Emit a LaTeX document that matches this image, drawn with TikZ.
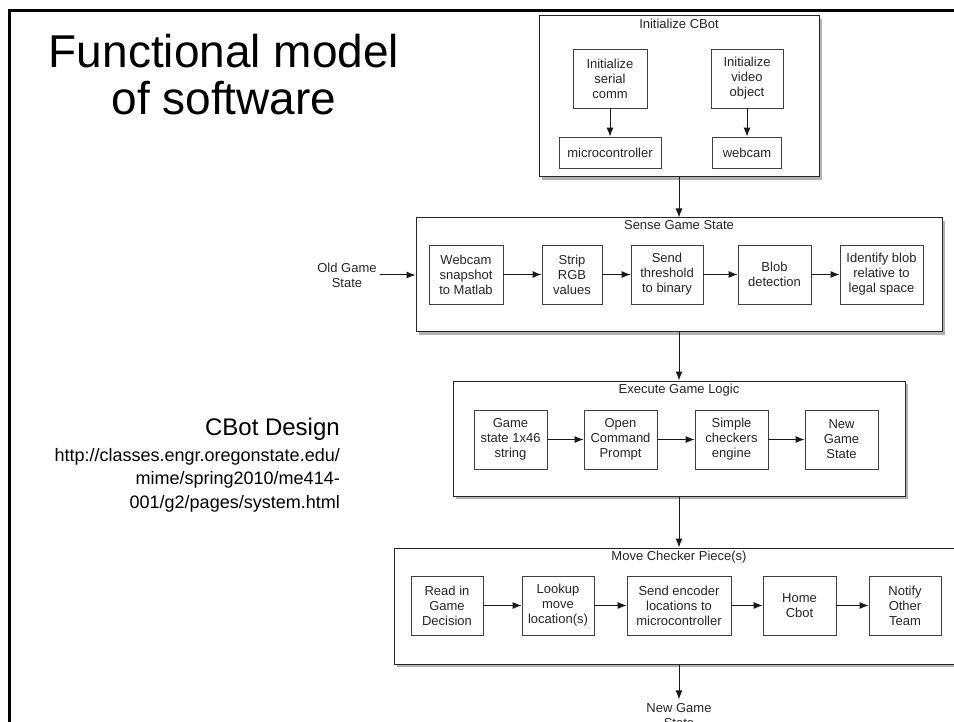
\documentclass[tikz,border=0pt]{standalone}
\usepackage{fontspec}
\setmainfont{Liberation Sans}
\usetikzlibrary{arrows.meta,shadows}

\tikzset{
  >={Latex[length=9pt,width=7pt]},
  stage/.style={draw=black!85, line width=1pt, fill=white, inner sep=0pt,
    drop shadow={shadow xshift=2.5pt, shadow yshift=-3pt, fill=black!60, opacity=0.5}},
  stagetitle/.style={anchor=north, inner sep=0pt, text=black!85, font=\fontsize{13}{15}\selectfont},
  func/.style={draw=black!75, line width=0.8pt, fill=white, align=center, inner sep=2pt,
    minimum height=59pt, text=black!85, font=\fontsize{13}{15}\selectfont},
  plain/.style={align=center, text=black!85, font=\fontsize{13}{15}\selectfont},
  flow/.style={->, line width=1pt, black!90},
}

\begin{document}
\begin{tikzpicture}[x=1pt,y=-1pt]
      \useasboundingbox (0,0) rectangle (954,722);
      \clip (0,0) rectangle (954,722);
      \draw[line width=3pt] (9.5,11) rectangle (1000,800);
      \node[font=\fontsize{46}{47}\selectfont, align=center, anchor=base] (title) at (224,115) {Functional model\\of software};
      \node[font=\fontsize{24}{28}\selectfont, anchor=base east, inner sep=0pt] (source) at (340,435) {CBot Design};
      \node[font=\fontsize{18}{23.5}\selectfont, align=right, anchor=base east, inner sep=0pt] (url) at (340,508)
        {http://classes.engr.oregonstate.edu/\\mime/spring2010/me414-\\001/g2/pages/system.html};
      \begin{scope}
        \node[stage, minimum width=280pt, minimum height=161pt] (init) at (679,96.5) {};
        \node[stagetitle] (inittitle) at ([yshift=-3pt]init.north) {Initialize CBot};
        \node[func, minimum width=74pt] (serial) at (610,78.5) {Initialize\\serial\\comm};
        \node[func, minimum width=102pt, minimum height=31pt] (micro) at (610,152.5) {microcontroller};
        \node[func, minimum width=72pt] (video) at (747,78.5) {Initialize\\video\\object};
        \node[func, minimum width=69pt, minimum height=31pt] (webcam) at (747,152.5) {webcam};
        \draw[flow] (serial) -- (micro);
        \draw[flow] (video) -- (webcam);
      \end{scope}
      \begin{scope}
        \node[stage, minimum width=526pt, minimum height=114pt] (sense) at (679,275) {};
        \node[stagetitle] (sensetitle) at ([yshift=-3pt]sense.north) {Sense Game State};
        \node[plain] (oldgs) at (347,275) {Old Game\\State};
        \node[func, minimum width=74pt] (snap) at (466,274.5) {Webcam\\snapshot\\to Matlab};
        \node[func, minimum width=60pt] (strip) at (572,274.5) {Strip\\RGB\\values};
        \node[func, minimum width=72pt] (thresh) at (667,274.5) {Send\\threshold\\to binary};
        \node[func, minimum width=73pt] (blob) at (774.5,274.5) {Blob\\detection};
        \node[func, minimum width=83pt] (ident) at (881.5,274.5) {Identify blob\\relative to\\legal space};
        \draw[flow] (oldgs.east) -- (sense.west);
        \draw[flow] (snap) -- (strip);
        \draw[flow] (strip) -- (thresh);
        \draw[flow] (thresh) -- (blob);
        \draw[flow] (blob) -- (ident);
      \end{scope}
      \begin{scope}
        \node[stage, minimum width=452pt, minimum height=115pt] (logic) at (679,438.5) {};
        \node[stagetitle] (logictitle) at ([yshift=-3pt]logic.north) {Execute Game Logic};
        \node[func, minimum width=73pt] (gstate) at (510.5,439.5) {Game\\state 1x46\\string};
        \node[func, minimum width=73pt] (prompt) at (620.5,439.5) {Open\\Command\\Prompt};
        \node[func, minimum width=73pt] (engine) at (731.5,439.5) {Simple\\checkers\\engine};
        \node[func, minimum width=73pt] (newstate) at (841.5,439.5) {New\\Game\\State};
        \draw[flow] (gstate) -- (prompt);
        \draw[flow] (prompt) -- (engine);
        \draw[flow] (engine) -- (newstate);
      \end{scope}
      \begin{scope}
        \node[stage, minimum width=570pt, minimum height=116pt] (move) at (679,606) {};
        \node[stagetitle] (movetitle) at ([yshift=-3pt]move.north) {Move Checker Piece(s)};
        \node[func, minimum width=72pt] (decision) at (447,605.5) {Read in\\Game\\Decision};
        \node[func, minimum width=72pt] (lookup) at (558,605.5) {Lookup\\move\\location(s)};
        \node[func, minimum width=104pt] (encoder) at (679,605.5) {Send encoder\\locations to\\microcontroller};
        \node[func, minimum width=73pt] (home) at (799.5,605.5) {Home\\Cbot};
        \node[func, minimum width=72pt] (notify) at (905,605.5) {Notify\\Other\\Team};
        \node[plain, anchor=base] (newgs) at (679,727) {New Game\\State};
        \draw[flow] (decision) -- (lookup);
        \draw[flow] (lookup) -- (encoder);
        \draw[flow] (encoder) -- (home);
        \draw[flow] (home) -- (notify);
      \end{scope}
      \draw[flow] (init.south) -- (sense.north);
      \draw[flow] (sense.south) -- (logic.north);
      \draw[flow] (logic.south) -- (move.north);
      \draw[flow] (move.south) -- (newgs.north);
    \end{tikzpicture}
\end{document}
